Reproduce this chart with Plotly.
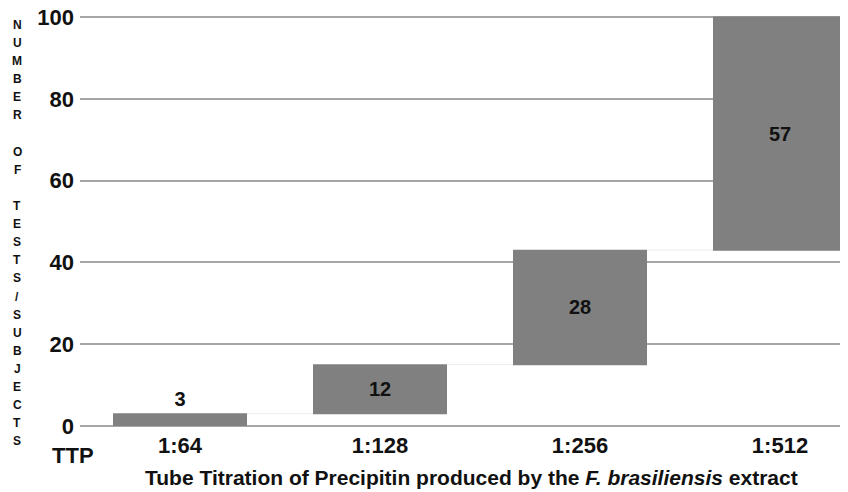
import plotly.graph_objects as go

categories = ["1:64", "1:128", "1:256", "1:512"]
values = [3, 12, 28, 57]
y_ticks = [0, 20, 40, 60, 80, 100]
y_title = "NUMBER OF TESTS/SUBJECTS"
x_title = "Tube Titration of Precipitin produced by the <i>F. brasiliensis</i> extract"
x_prefix = "TTP"

FONT = "Liberation Sans"
OFF = 8  # page body margin in the browser
W, H = 848 - OFF, 492 - OFF
Y_TOP = 100.5
L, R, T, B = 80 - OFF, 0, 15 - OFF, 66
PW, PH = W - L - R, H - T - B

def px_to_paper_x(px):
    return (px - OFF - L) / PW

def px_to_paper_y(py):
    return (H - B - (py - OFF)) / PH

fig = go.Figure(go.Waterfall(
    x=categories,
    y=values,
    measure=["relative"] * len(values),
    text=[str(v) for v in values],
    textposition=["outside", "inside", "inside", "inside"],
    insidetextanchor="middle",
    textfont=dict(family=FONT, size=20, color="#111111", weight="bold"),
    increasing=dict(marker=dict(color="#808080", line=dict(width=0))),
    connector=dict(line=dict(color="#ececec", width=1)),
    width=0.67,
    cliponaxis=False,
))

annotations = []
# stacked vertical y title
y0, step = 25, 18.1
for i, ch in enumerate(y_title):
    if ch == " ":
        continue
    annotations.append(dict(
        text=ch, xref="paper", yref="paper",
        x=px_to_paper_x(17), y=px_to_paper_y(y0 + i * step),
        xanchor="center", yanchor="middle", showarrow=False,
        font=dict(family=FONT, size=12, color="#111111", weight="bold"),
    ))
annotations.append(dict(
    text=x_prefix, xref="paper", yref="paper",
    x=px_to_paper_x(73), y=px_to_paper_y(455),
    xanchor="center", yanchor="middle", showarrow=False,
    font=dict(family=FONT, size=22, color="#111111", weight="bold"),
))
annotations.append(dict(
    text=x_title, xref="paper", yref="paper",
    x=px_to_paper_x(471), y=px_to_paper_y(477),
    xanchor="center", yanchor="middle", showarrow=False,
    font=dict(family=FONT, size=21, color="#111111", weight="bold"),
))

fig.update_layout(
    width=W, height=H,
    margin=dict(l=L, r=R, t=T, b=B),
    paper_bgcolor="white", plot_bgcolor="white",
    showlegend=False,
    annotations=annotations,
    xaxis=dict(
        type="category", range=[-0.5, -0.5 + PW / 200],
        automargin=False,
        showgrid=False, showline=False, zeroline=False, ticks="",
        tickfont=dict(family=FONT, size=22, color="#111111", weight="bold"),
        ticklabelstandoff=4,
    ),
    yaxis=dict(
        range=[0, Y_TOP], tickvals=y_ticks, automargin=False,
        ticklabeloverflow="allow",
        showgrid=True, gridcolor="#a6a6a6", gridwidth=2,
        zeroline=True, zerolinecolor="#a6a6a6", zerolinewidth=2,
        showline=False, ticks="",
        tickfont=dict(family=FONT, size=22, color="#111111", weight="bold"),
        ticklabelstandoff=5,
    ),
)

fig.write_html("out.html")
